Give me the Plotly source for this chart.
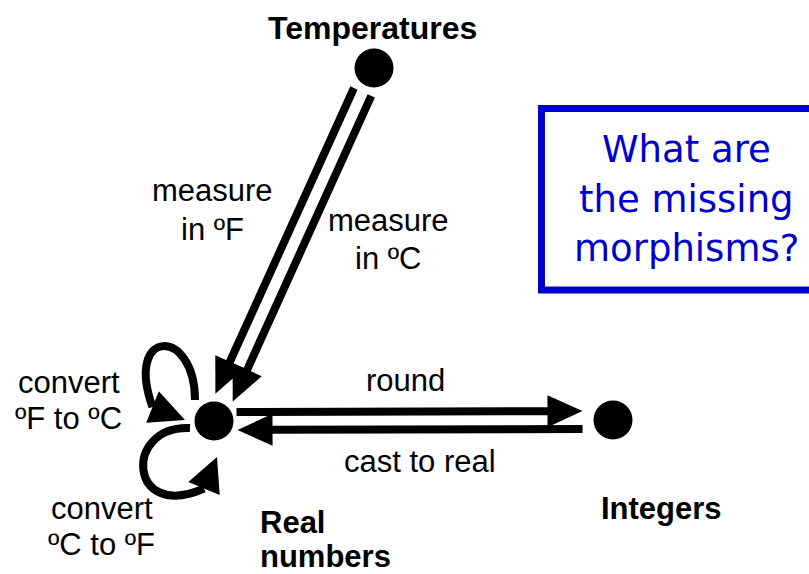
import math
import plotly.graph_objects as go

# ---------------- data ----------------
objects = ["Temperatures", "Real numbers", "Integers"]
object_labels = [["Temperatures"], ["Real", "numbers"], ["Integers"]]

morphisms = ["measure in ºF", "measure in ºC", "round", "cast to real",
             "convert ºF to ºC", "convert ºC to ºF"]
morphism_labels = [["measure", "in ºF"], ["measure", "in ºC"], ["round"],
                   ["cast to real"], ["convert", "ºF to ºC"], ["convert", "ºC to ºF"]]
sources = ["Temperatures", "Temperatures", "Real numbers", "Integers",
           "Real numbers", "Real numbers"]
targets = ["Real numbers", "Real numbers", "Integers", "Real numbers",
           "Real numbers", "Real numbers"]

question_lines = ["What are", "the missing", "morphisms?"]

# ---------------- layout (pixel space) ----------------
W, H = 809, 574
node_pos = {"Temperatures": (374, 68), "Real numbers": (214, 421), "Integers": (613, 420)}
node_r = 19.5
object_label_pos = {"Temperatures": [(372, 28)], "Real numbers": [(258, 522), (258, 556)],
                    "Integers": [(661, 508)]}
object_label_anchor = {"Temperatures": "center", "Real numbers": "left", "Integers": "center"}
object_label_size = {"Temperatures": 32, "Real numbers": 31, "Integers": 31}

# straight edges: perpendicular offset, start gap, end gap
straight_style = {
    "measure in ºF": (10, 7, 6),
    "measure in ºC": (-9, 7, 6),
    "round": (-9, 3, 11),
    "cast to real": (-9, 11, 4),
}
# loops: cubic bezier control points and tip relative to node centre
loop_style = {
    "convert ºF to ºC": [(-19, -21), (-19, -94), (-90, -94), (-61.5, -14), (-29, -1)],
    "convert ºC to ºF": [(-24, 7), (-91, 4), (-86, 101), (-10, 67.5), (3, 36)],
}
label_pos = {
    "measure in ºF": [(212, 190), (212, 229)],
    "measure in ºC": [(388, 220), (388, 258)],
    "round": [(405, 380)],
    "cast to real": [(420, 461)],
    "convert ºF to ºC": [(69, 382), (68, 418)],
    "convert ºC to ºF": [(102, 508), (101, 544)],
}
question_pos = [(686, 149), (686, 199), (686, 248)]

BLUE = "#0000CC"
FONT = "Liberation Sans, Arial, sans-serif"
FS = 31
LW = 8
HEAD_L, HEAD_W = 35, 16

fig = go.Figure()


def triangle(tip, u, L=HEAD_L, hw=HEAD_W):
    tx, ty = tip
    ux, uy = u
    bx, by = tx - L * ux, ty - L * uy
    px, py = -uy, ux
    pts = [(tx, ty), (bx + hw * px, by + hw * py), (bx - hw * px, by - hw * py)]
    return "M " + " L ".join(f"{x:.2f},{y:.2f}" for x, y in pts) + " Z"


# straight arrows
for m, s, t in zip(morphisms, sources, targets):
    if m not in straight_style:
        continue
    off, g0, g1 = straight_style[m]
    (sx, sy), (tx, ty) = node_pos[s], node_pos[t]
    d = math.hypot(tx - sx, ty - sy)
    ux, uy = (tx - sx) / d, (ty - sy) / d
    px, py = -uy, ux
    a0 = node_r + g0
    a1 = d - node_r - g1
    start = (sx + a0 * ux + off * px, sy + a0 * uy + off * py)
    tip = (sx + a1 * ux + off * px, sy + a1 * uy + off * py)
    lend = (tip[0] - (HEAD_L - 3) * ux, tip[1] - (HEAD_L - 3) * uy)
    fig.add_shape(type="line", x0=start[0], y0=start[1], x1=lend[0], y1=lend[1],
                  xref="x", yref="y", line=dict(color="black", width=LW))
    fig.add_shape(type="path", path=triangle(tip, (ux, uy)), xref="x", yref="y",
                  fillcolor="black", line=dict(color="black", width=0))

# loop arrows
for m, s in zip(morphisms, sources):
    if m not in loop_style:
        continue
    cx, cy = node_pos[s]
    pts = [(cx + dx, cy + dy) for dx, dy in loop_style[m]]
    p0, p1, p2, p3, tip = pts
    path = (f"M {p0[0]},{p0[1]} C {p1[0]},{p1[1]} {p2[0]},{p2[1]} {p3[0]},{p3[1]}")
    fig.add_shape(type="path", path=path, xref="x", yref="y",
                  line=dict(color="black", width=LW))
    dx, dy = tip[0] - p3[0], tip[1] - p3[1]
    L = math.hypot(dx, dy)
    fig.add_shape(type="path", path=triangle(tip, (dx / L, dy / L), L=L, hw=17),
                  xref="x", yref="y", fillcolor="black", line=dict(color="black", width=0))

# nodes
fig.add_trace(go.Scatter(
    x=[node_pos[o][0] for o in objects], y=[node_pos[o][1] for o in objects],
    mode="markers", marker=dict(size=2 * node_r, color="black"),
    text=objects, hoverinfo="text", showlegend=False))

# object labels
for o, lines in zip(objects, object_labels):
    for line, (x, y) in zip(lines, object_label_pos[o]):
        fig.add_annotation(x=x, y=y, text=f"<b>{line}</b>", showarrow=False,
                           xanchor=object_label_anchor[o], yanchor="middle",
                           font=dict(family=FONT, size=object_label_size[o], color="black"))

# morphism labels
for m, lines in zip(morphisms, morphism_labels):
    for line, (x, y) in zip(lines, label_pos[m]):
        fig.add_annotation(x=x, y=y, text=line, showarrow=False,
                           xanchor="center", yanchor="middle",
                           font=dict(family=FONT, size=FS, color="black"))

# question box
fig.add_shape(type="rect", x0=541.5, x1=850, y0=108.5, y1=290, xref="x", yref="y",
              line=dict(color=BLUE, width=7), fillcolor="white", layer="below")
for line, (x, y) in zip(question_lines, question_pos):
    fig.add_annotation(x=x, y=y, text=line, showarrow=False, xanchor="center",
                       yanchor="middle",
                       font=dict(family="DejaVu Sans, sans-serif", size=37, color=BLUE))

fig.update_layout(
    width=W, height=H, margin=dict(l=0, r=0, t=0, b=0),
    paper_bgcolor="white", plot_bgcolor="white", showlegend=False,
    xaxis=dict(range=[0, W], visible=False, fixedrange=True),
    yaxis=dict(range=[H, 0], visible=False, fixedrange=True),
)

fig.write_html("out.html", config={"displayModeBar": False},
               post_script="document.body.style.margin='0';document.body.style.overflow='hidden';")
